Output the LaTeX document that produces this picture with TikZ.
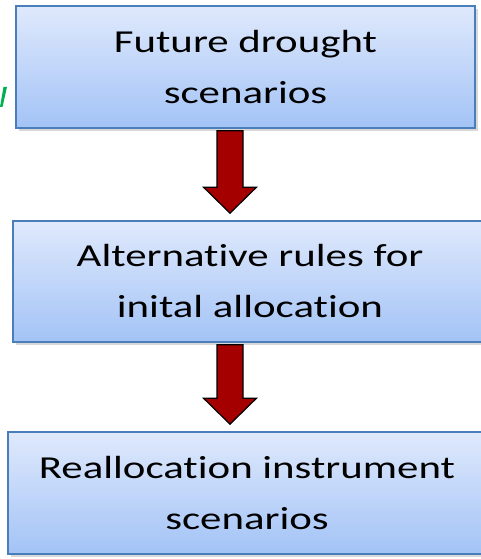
\documentclass[tikz,border=0pt]{standalone}
\usepackage{fontspec}
\setmainfont{Carlito}[FakeStretch=1.34,RawFeature=-liga]
\usetikzlibrary{calc,shadows}
\definecolor{boxtop}{RGB}{223,233,252}
\definecolor{boxbot}{RGB}{163,195,246}
\definecolor{boxline}{RGB}{74,126,187}
\definecolor{arrowred}{RGB}{165,0,0}
\definecolor{leafgreen}{RGB}{0,176,80}
\tikzset{
  stagebox/.style={draw=boxline,line width=1.6pt,top color=boxtop,bottom color=boxbot,
    align=center,font=\fontsize{32}{51}\selectfont,inner sep=0pt,
    drop shadow={shadow xshift=2.5pt,shadow yshift=-3pt,fill=black!30}},
  arrowfill/.style={fill=arrowred,draw=black,line width=1.2pt,line join=miter}
}
% block arrow from the bottom of #1 to the top of #2
\newcommand*{\blockarrow}[2]{%
  \filldraw[arrowfill] ($(axis |- #1.south)+(-13,2)$) -- ($(axis |- #1.south)+(13,2)$)
    -- ($(axis |- #2.north)+(13,-33)$) -- ($(axis |- #2.north)+(26.5,-33)$)
    -- ($(axis |- #2.north)+(0,-7)$) -- ($(axis |- #2.north)+(-26.5,-33)$)
    -- ($(axis |- #2.north)+(-13,-33)$) -- cycle;}

\begin{document}
\begin{tikzpicture}[x=1pt,y=-1pt]
\useasboundingbox (0,0) rectangle (481,559);
\clip (0,0) rectangle (481,559);

% stages
\node[stagebox,minimum width=459pt,minimum height=122pt] (future) at (245.5,67)
  {Future drought\\scenarios};
\node[stagebox,minimum width=474pt,minimum height=121pt] (rules) at (250,281.5)
  {Alternative rules for\\inital allocation};
\node[stagebox,minimum width=478pt,minimum height=122pt] (realloc) at (247,493)
  {Reallocation instrument\\scenarios};

% arrows
\coordinate (axis) at (230,0);
\blockarrow{future}{rules}
\blockarrow{rules}{realloc}

% cut-off green stroke at the left edge
\fill[leafgreen] (0,107) -- (2.5,107) -- (7,87) -- (3.5,87) -- cycle;
\end{tikzpicture}
\end{document}
